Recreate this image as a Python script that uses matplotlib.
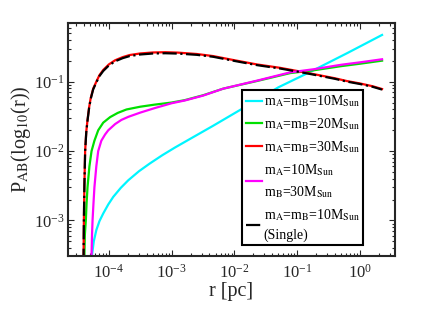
import matplotlib
matplotlib.use("Agg")
import matplotlib.pyplot as plt
import numpy as np

plt.rcParams['font.family'] = ['Liberation Serif', 'DejaVu Serif']
plt.rcParams['mathtext.fontset'] = 'stix'

# values, as log10(r [pc]) and log10(P)
lr_cyan = [-4.285, -4.27, -4.24, -4.20, -4.15, -4.09, -4.01, -3.93, -3.81, -3.69,
           -3.52, -3.35, -3.15, -2.95, -2.66, -2.34, -1.86, -1.30, -0.79, -0.20, 0.35]
lp_cyan = [-4.0, -3.51, -3.30, -3.14, -3.01, -2.90, -2.77, -2.66, -2.53, -2.42,
           -2.29, -2.18, -2.06, -1.95, -1.80, -1.635, -1.38, -1.08, -0.856, -0.585, -0.325]

lr_green = [-4.397, -4.392, -4.382, -4.367, -4.355, -4.34, -4.31, -4.276, -4.23, -4.17,
            -4.09, -3.98, -3.86, -3.72, -3.50, -3.27, -3.00, -2.79, -2.50, -2.18,
            -1.645, -1.11, -0.74, -0.30, 0.0, 0.35]
lp_green = [-4.5, -3.6, -3.2, -3.0, -2.75, -2.52, -2.22, -2.0, -1.85, -1.70,
            -1.59, -1.51, -1.45, -1.40, -1.36, -1.33, -1.30, -1.265, -1.195, -1.10,
            -0.99, -0.875, -0.835, -0.775, -0.74, -0.696]

lr_red = [-4.41, -4.403, -4.398, -4.39, -4.378, -4.36, -4.34, -4.315, -4.29, -4.25,
          -4.20, -4.15, -4.09, -4.00, -3.90, -3.78, -3.67, -3.50, -3.30, -3.10,
          -2.90, -2.60, -2.34, -2.00, -1.645, -1.27, -1.00, -0.74, -0.40, -0.21,
          0.0, 0.20, 0.35]
lp_red = [-4.5, -3.5, -3.0, -2.5, -2.0, -1.72, -1.55, -1.37, -1.24, -1.10,
          -1.0, -0.905, -0.83, -0.75, -0.69, -0.645, -0.615, -0.592, -0.578, -0.574,
          -0.58, -0.60, -0.63, -0.69, -0.75, -0.80, -0.845, -0.89, -0.95, -0.99,
          -1.025, -1.065, -1.105]

lr_mag = [-4.282, -4.276, -4.268, -4.26, -4.245, -4.23, -4.20, -4.17, -4.12, -4.06,
          -4.01, -3.90, -3.80, -3.69, -3.50, -3.27, -3.00, -2.79, -2.50, -2.18,
          -1.645, -1.11, -0.74, -0.30, 0.0, 0.35]
lp_mag = [-4.5, -3.5, -3.2, -3.0, -2.75, -2.52, -2.22, -2.0, -1.85, -1.76,
          -1.70, -1.61, -1.55, -1.506, -1.445, -1.38, -1.31, -1.27, -1.20, -1.10,
          -0.985, -0.864, -0.82, -0.755, -0.72, -0.676]

lr_single = lr_red
lp_single = [-4.5, -3.5, -3.0, -2.5, -2.0, -1.73, -1.56, -1.38, -1.25, -1.11,
             -1.01, -0.918, -0.845, -0.765, -0.705, -0.66, -0.63, -0.607, -0.593, -0.589,
             -0.594, -0.612, -0.64, -0.70, -0.76, -0.81, -0.853, -0.898, -0.958, -0.998,
             -1.033, -1.073, -1.113]

labels = [r'm$_{\rm A}$=m$_{\rm B}$=10M$_{\rm Sun}$',
          r'm$_{\rm A}$=m$_{\rm B}$=20M$_{\rm Sun}$',
          r'm$_{\rm A}$=m$_{\rm B}$=30M$_{\rm Sun}$',
          'm$_{\\rm A}$=10M$_{\\rm Sun}$\nm$_{\\rm B}$=30M$_{\\rm Sun}$',
          'm$_{\\rm A}$=m$_{\\rm B}$=10M$_{\\rm Sun}$\n(Single)']

ink = '#262626'
fig = plt.figure(figsize=(4.36, 3.09), dpi=100)
ax = fig.add_axes([0.155, 0.1725, 0.751, 0.754])

series = [(lr_cyan, lp_cyan, '#00f5ff', '-'),
          (lr_green, lp_green, '#00e000', '-'),
          (lr_red, lp_red, '#ff0000', '-'),
          (lr_mag, lp_mag, '#ff00ff', '-'),
          (lr_single, lp_single, 'k', '-.')]
for (lr, lp, c, ls), lab in zip(series, labels):
    ax.plot(10**np.array(lr), 10**np.array(lp), color=c, ls=ls, lw=1.6, label=lab)

ax.set_xscale('log')
ax.set_yscale('log')
ax.set_xlim(2.2e-5, 3.6)
ax.set_ylim(3.1e-4, 0.71)
ax.set_xticks([1e-4, 1e-3, 1e-2, 1e-1, 1e0])
ax.set_yticks([1e-3, 1e-2, 1e-1])
ax.tick_params(which='both', direction='in', top=True, right=True, colors=ink,
               labelsize=12, width=0.8)
ax.tick_params(which='major', length=4.5)
ax.tick_params(which='minor', length=2.5)
ax.tick_params(axis='x', pad=6)
ax.tick_params(axis='y', pad=2)
for s in ax.spines.values():
    s.set_linewidth(1.5)
    s.set_color(ink)

ax.set_xlabel('r [pc]', fontsize=14.5, color=ink, labelpad=0)
ax.set_ylabel(r'P$_{\rm AB}$(log$_{10}$(r))', fontsize=14.5, color=ink, labelpad=1)

leg = ax.legend(loc='upper right', bbox_to_anchor=(0.902, 0.711), borderaxespad=0,
                fancybox=False, framealpha=1, edgecolor='k', fontsize=10,
                handlelength=1.2, handletextpad=0.1, borderpad=0.25,
                labelspacing=0.5)
leg.get_frame().set_linewidth(1.5)
for t in leg.get_texts():
    t.set_linespacing(1.55)

fig.savefig('out.png', dpi=100)
